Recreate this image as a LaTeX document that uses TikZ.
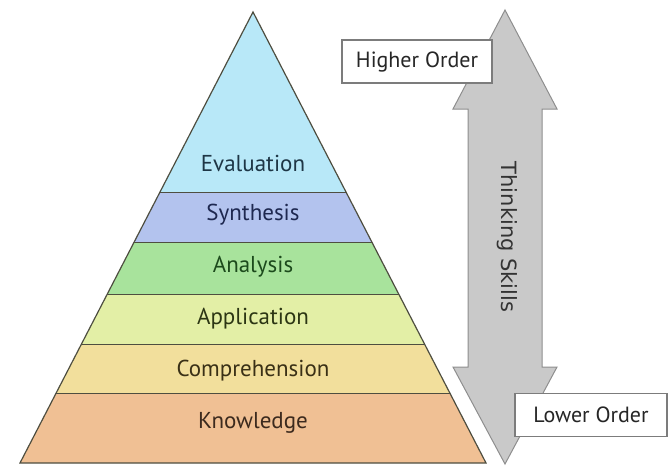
\documentclass[tikz,border=0pt]{standalone}
\usepackage{fontspec}
\setmainfont{PT Sans}
\newfontfamily\skillfont{DejaVu Sans}
\usetikzlibrary{positioning}
\definecolor{evalblue}{HTML}{B8E8F8}
\definecolor{synblue}{HTML}{B3C3EE}
\definecolor{anagreen}{HTML}{A8E39C}
\definecolor{applime}{HTML}{E3EFA6}
\definecolor{compyellow}{HTML}{F2DF9C}
\definecolor{knoworange}{HTML}{F0C094}
\definecolor{evaltext}{HTML}{1E3646}
\definecolor{syntext}{HTML}{1E2850}
\definecolor{anatext}{HTML}{1C4A1C}
\definecolor{apptext}{HTML}{2C3614}
\definecolor{comptext}{HTML}{3A3016}
\definecolor{knowtext}{HTML}{3C2A1E}
\definecolor{bandline}{HTML}{4E4E40}
\definecolor{arrowgray}{HTML}{C9C9C9}
\definecolor{arrowline}{HTML}{8E8E8E}
\definecolor{boxgray}{HTML}{7C7C7C}
\tikzset{
	levellabel/.style={font=\fontsize{23}{25}\selectfont},
	orderbox/.style={draw=boxgray, fill=white, line width=1.2pt, minimum height=43pt, text=black!85, font=\fontsize{22}{24}\selectfont}
}
\begin{document}
\begin{tikzpicture}[x=1pt, y=-1pt]
	       		\useasboundingbox (0,0) rectangle (669,466);
	       		\begin{scope}
	       		\clip (253,12) -- (486,463) -- (20,463) -- cycle;
	       		\fill[evalblue] (0,0) rectangle (669,192);
	       		\fill[synblue] (0,192) rectangle (669,242);
	       		\fill[anagreen] (0,242) rectangle (669,294);
	       		\fill[applime] (0,294) rectangle (669,344);
	       		\fill[compyellow] (0,344) rectangle (669,393);
	       		\fill[knoworange] (0,393) rectangle (669,466);
	       		\draw[bandline, line width=1pt] (0,192) -- (669,192);
	       		\draw[bandline, line width=1pt] (0,242) -- (669,242);
	       		\draw[bandline, line width=1pt] (0,294) -- (669,294);
	       		\draw[bandline, line width=1pt] (0,344) -- (669,344);
	       		\draw[bandline, line width=1pt] (0,393) -- (669,393);
	       		\end{scope}
	       		\draw[bandline, line width=1.2pt, line join=miter] (253,12) -- (486,463) -- (20,463) -- cycle;
	       		\draw[draw=arrowline, fill=arrowgray, line width=1pt] (505,10) -- (557,109) -- (542,109) -- (542,367) -- (557,367) -- (505,464) -- (453,367) -- (468,367) -- (468,109) -- (453,109) -- cycle;
	       		\draw node[levellabel, text=evaltext] at (253,163) (eva) {Evaluation};
	       		\draw node[levellabel, text=syntext] 
	       		[below of=eva, node distance=52pt] (syn) {Synthesis};
	       		\draw node[levellabel, text=anatext] 
	       		[below of=syn, node distance=52pt] (ana) {Analysis};
	       		\draw node[levellabel, text=apptext] 
	       		[below of=ana, node distance=52pt] (app) {Application};
	       		\draw node[levellabel, text=comptext] 
	       		[below of=app, node distance=52pt] (comp) {Comprehension};
	       		\draw node[levellabel, text=knowtext] 
	       		[below of=comp, node distance=52pt] (know) {Knowledge};
	       		\draw node[orderbox, minimum width=150pt] at (417,61.5) (high) {Higher Order};
	       		\draw node[orderbox, minimum width=152pt] at (591,415) (low) {Lower Order};
	       		\draw node[rotate=-90, text=black!80, font=\skillfont\fontsize{21}{23}\selectfont] at (507,237) (skills) {Thinking Skills};
	       	\end{tikzpicture}
\end{document}
